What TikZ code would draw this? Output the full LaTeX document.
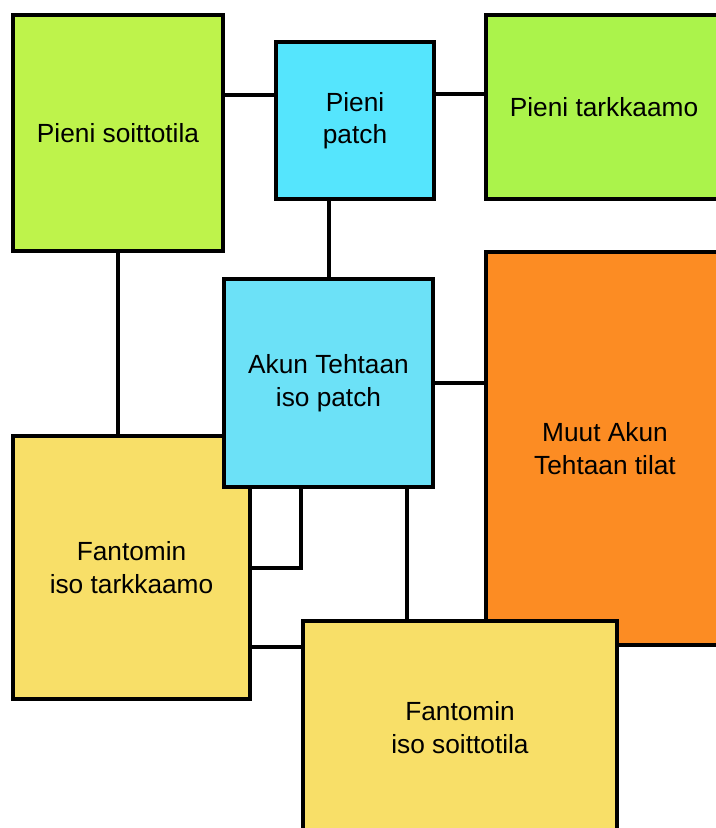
\documentclass[tikz,border=0pt]{standalone}
\usepackage{fontspec}
\setmainfont{Liberation Sans}
\definecolor{smallroom}{RGB}{190,243,75}
\definecolor{smallctrl}{RGB}{171,243,75}
\definecolor{smallpatch}{RGB}{85,229,253}
\definecolor{bigpatch}{RGB}{108,225,247}
\definecolor{otherrooms}{RGB}{252,140,35}
\definecolor{fantom}{RGB}{248,223,104}
\tikzset{
  room/.style={draw=black, line width=3pt, rectangle, align=center, inner sep=0pt,
    font=\fontsize{19.7}{24.4}\selectfont},
  link/.style={draw=black, line width=3pt}
}
\begin{document}
\begin{tikzpicture}[x=0.75pt,y=0.75pt,yscale=-1,xscale=1]
                \useasboundingbox (0,0) rectangle (715,828);
                
                %Shape: Rectangle [Pieni soittotila]
                \node [room, fill=smallroom, minimum width=157.5pt, minimum height=177pt] (soitto) at (118,133) {Pieni soittotila};
                %Shape: Rectangle [Pieni patch]
                \node [room, fill=smallpatch, minimum width=118.5pt, minimum height=117.75pt] (patch) at (355,120.5) {Pieni\\patch};
                %Shape: Rectangle [Pieni tarkkaamo]
                \node [room, fill=smallctrl, minimum width=177pt, minimum height=138pt] (tarkka) at (604,107) {Pieni tarkkaamo};
                %Shape: Rectangle [Fantomin iso tarkkaamo]
                \node [room, fill=fantom, minimum width=177.75pt, minimum height=197.25pt] (ftarkka) at (131.5,567.5) {Fantomin\\iso tarkkaamo};
                %Shape: Rectangle [Akun Tehtaan iso patch]
                \node [room, fill=bigpatch, minimum width=156.75pt, minimum height=156pt] (isopatch) at (328.5,383) {Akun Tehtaan\\iso patch};
                %Shape: Rectangle [Muut Akun Tehtaan tilat]
                \node [room, fill=otherrooms, minimum width=178.5pt, minimum height=294.75pt] (muut) at (605,448.5) {Muut Akun\\Tehtaan tilat};
                %Shape: Rectangle [Fantomin iso soittotila]
                \node [room, fill=fantom, minimum width=235.5pt, minimum height=159.75pt] (fsoitto) at (460,727.5) {Fantomin\\iso soittotila};
                
                %Straight Lines [soitto - patch]
                \path (patch.west) ++(0,-25.5) coordinate (sp);
                \draw [link] (sp) -- (sp -| soitto.east);
                %Straight Lines [patch - tarkka]
                \path (patch.east) ++(0,-26.5) coordinate (pt);
                \draw [link] (pt) -- (pt -| tarkka.west);
                %Straight Lines [soitto - ftarkka]
                \draw [link] (soitto.south) -- (soitto.south |- ftarkka.north);
                %Straight Lines [patch - isopatch]
                \draw [link] (isopatch.north) -- (isopatch.north |- patch.south);
                %Straight Lines [isopatch - muut]
                \draw [link] (isopatch.east) -- (isopatch.east -| muut.west);
                %Straight Lines [isopatch - ftarkka]
                \draw [link] (ftarkka.east) -| (fsoitto.west |- isopatch.south);
                %Straight Lines [ftarkka - fsoitto]
                \draw [link] (ftarkka.east |- muut.south) -- (fsoitto.west |- muut.south);
                %Straight Lines [isopatch - fsoitto]
                \path (isopatch.south) ++(78.5,0) coordinate (pf);
                \draw [link] (pf) -- (pf |- fsoitto.north);
                
                \end{tikzpicture}
\end{document}
